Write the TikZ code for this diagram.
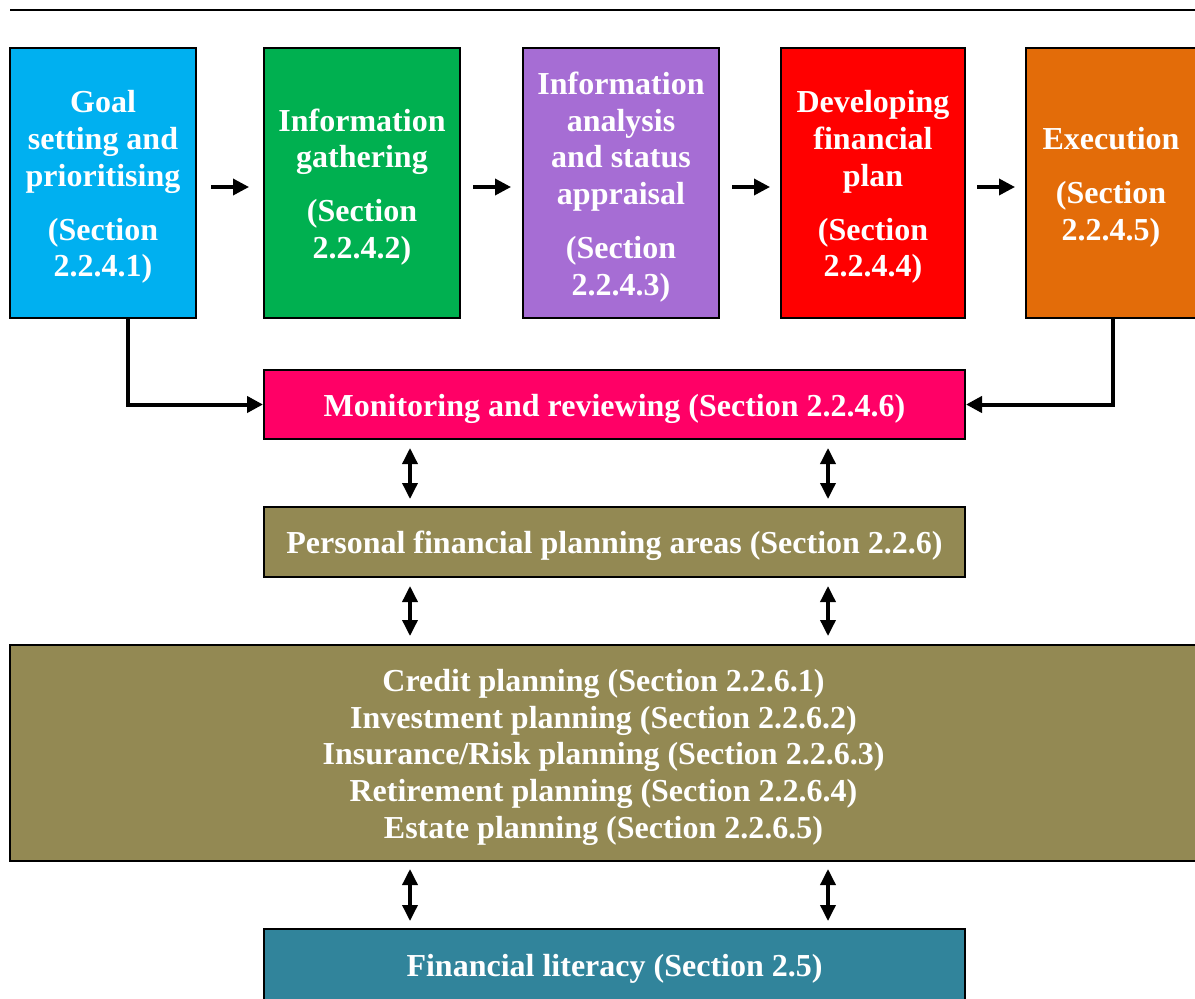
\documentclass[tikz,border=0pt]{standalone}
\usepackage{fontspec}
\setmainfont{Liberation Serif}
\usetikzlibrary{arrows.meta}
\definecolor{cblue}{HTML}{00B0F0}
\definecolor{cgreen}{HTML}{00B050}
\definecolor{cpurple}{HTML}{A66DD4}
\definecolor{cred}{HTML}{FF0000}
\definecolor{corange}{HTML}{E36C09}
\definecolor{cpink}{HTML}{FF0066}
\definecolor{colive}{HTML}{938953}
\definecolor{cteal}{HTML}{31849B}
\newcommand{\tstrut}{\rule{0pt}{30.5pt}}
\tikzset{
  box/.style={draw=black, line width=2pt, text=white, align=center, inner sep=0pt,
    font=\fontsize{32}{36.7}\selectfont\bfseries},
  flowarrow/.style={line width=3.5pt, -{Triangle[length=16pt,width=16pt]}},
  elbow/.style={line width=4pt, -{Triangle[length=16pt,width=16pt]}},
  twoway/.style={line width=3.5pt, {Triangle[length=16pt,width=15pt]}-{Triangle[length=16pt,width=15pt]}},
  rule/.style={line width=2pt}
}
\begin{document}
\begin{tikzpicture}[x=1pt,y=-1pt]
\useasboundingbox (0,0) rectangle (1195,999);
\clip (0,0) rectangle (1195,999);
\draw[rule] (10,10) -- (1195,10);
% top row
\node[box, fill=cblue, minimum width=186pt, minimum height=270pt] (b1) at (103,183)
  {\tstrut Goal\\setting and\\prioritising\\[17pt](Section\\2.2.4.1)};
\node[box, fill=cgreen, minimum width=196pt, minimum height=270pt] (b2) at (362,183)
  {\tstrut Information\\gathering\\[17pt](Section\\2.2.4.2)};
\node[box, fill=cpurple, minimum width=196pt, minimum height=270pt] (b3) at (621,183)
  {\tstrut Information\\analysis\\and status\\appraisal\\[17pt](Section\\2.2.4.3)};
\node[box, fill=cred, minimum width=184pt, minimum height=270pt] (b4) at (873,183)
  {\tstrut Developing\\financial\\plan\\[17pt](Section\\2.2.4.4)};
\node[box, fill=corange, minimum width=170pt, minimum height=270pt] (b5) at (1111,183)
  {\tstrut Execution\\[17pt](Section\\2.2.4.5)};
% lower boxes
\node[box, fill=cpink, minimum width=701pt, minimum height=69pt] (mon) at (614.5,404.5)
  {\tstrut Monitoring and reviewing (Section 2.2.4.6)};
\node[box, fill=colive, minimum width=701pt, minimum height=70pt] (pers) at (614.5,542)
  {\tstrut Personal financial planning areas (Section 2.2.6)};
\node[box, fill=colive, minimum width=1187pt, minimum height=216pt] (big) at (603.5,753)
  {\tstrut Credit planning (Section 2.2.6.1)\\Investment planning (Section 2.2.6.2)\\Insurance/Risk planning (Section 2.2.6.3)\\Retirement planning (Section 2.2.6.4)\\Estate planning (Section 2.2.6.5)};
\node[box, fill=cteal, minimum width=701pt, minimum height=72pt] (lit) at (614.5,965)
  {\tstrut Financial literacy (Section 2.5)};
% horizontal arrows
\draw[flowarrow, shorten <=14pt, shorten >=14pt] ([yshift=-4pt]b1.east) -- ([yshift=-4pt]b2.west);
\draw[flowarrow, shorten <=12pt, shorten >=11pt] ([yshift=-4pt]b2.east) -- ([yshift=-4pt]b3.west);
\draw[flowarrow, shorten <=12pt, shorten >=10pt] ([yshift=-4pt]b3.east) -- ([yshift=-4pt]b4.west);
\draw[flowarrow, shorten <=11pt, shorten >=10pt] ([yshift=-4pt]b4.east) -- ([yshift=-4pt]b5.west);
% elbows
\draw[elbow] ([xshift=25pt]b1.south) |- (mon.west);
\draw[elbow] ([xshift=2pt]b5.south) |- (mon.east);
% vertical double arrows
\coordinate (cl) at (410,0);
\coordinate (cr) at (828,0);
\draw[twoway, shorten <=8pt, shorten >=7pt] (cl |- mon.south) -- (cl |- pers.north);
\draw[twoway, shorten <=8pt, shorten >=7pt] (cr |- mon.south) -- (cr |- pers.north);
\draw[twoway, shorten <=8pt, shorten >=8pt] (cl |- pers.south) -- (cl |- big.north);
\draw[twoway, shorten <=8pt, shorten >=8pt] (cr |- pers.south) -- (cr |- big.north);
\draw[twoway, shorten <=7pt, shorten >=7pt] (cl |- big.south) -- (cl |- lit.north);
\draw[twoway, shorten <=7pt, shorten >=7pt] (cr |- big.south) -- (cr |- lit.north);
\end{tikzpicture}
\end{document}
